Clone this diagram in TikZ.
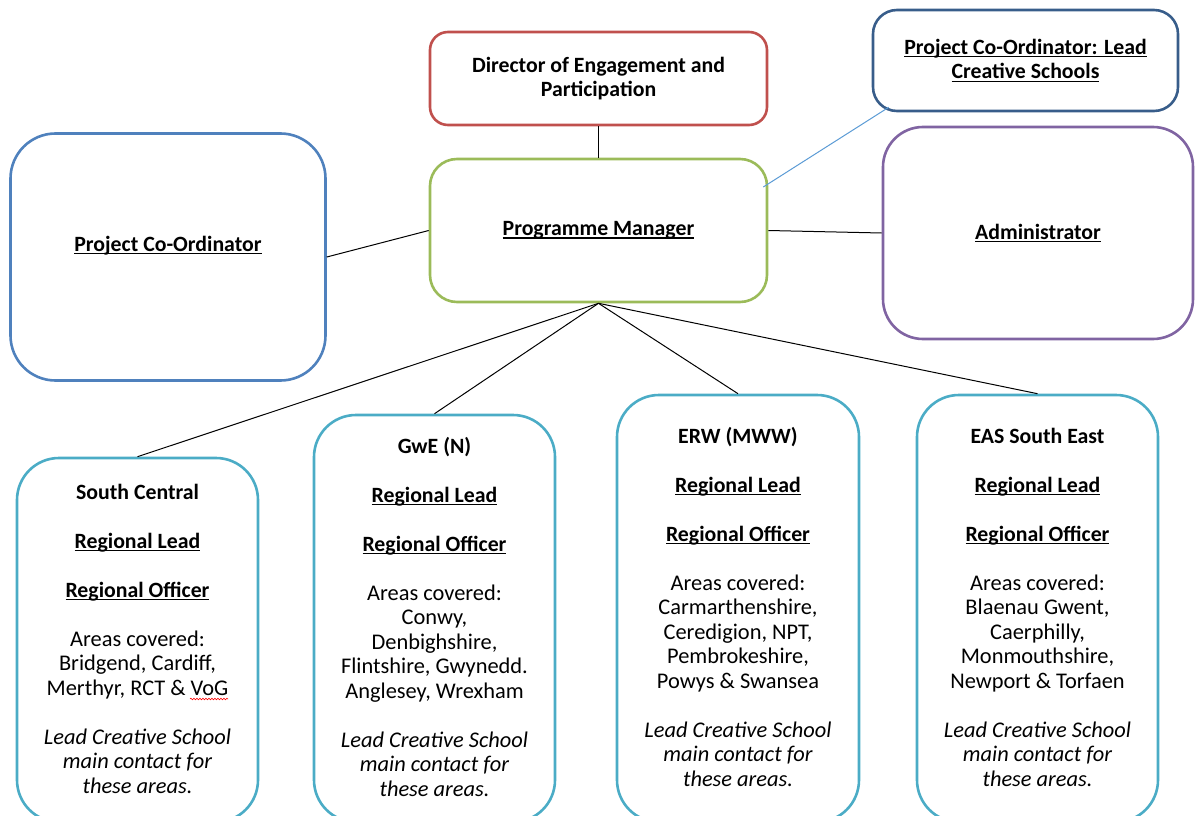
\documentclass[tikz,border=0pt]{standalone}
\usepackage{fontspec}
\setmainfont{Carlito}
\usetikzlibrary{calc,decorations.pathmorphing}
\definecolor{cred}{HTML}{C0504D}
\definecolor{cgreen}{HTML}{9BBB59}
\definecolor{cblue}{HTML}{4F81BD}
\definecolor{cdblue}{HTML}{385D8A}
\definecolor{cpurple}{HTML}{8064A2}
\definecolor{cteal}{HTML}{4BACC6}
\definecolor{clink}{HTML}{5B9BD5}
\newcommand\myul[1]{\setbox0=\hbox{#1}\makebox[0pt][l]{\rule[-2.8pt]{\wd0}{1.1pt}}\box0}
\newcommand\tb[1]{\begin{tabular}[t]{@{}c@{}}#1\end{tabular}}
\newcommand\hdf{\fontsize{21.8}{24.5}\selectfont\bfseries}
\newcommand\bd[1]{{\hdf #1}}
\begin{document}
\begin{tikzpicture}[x=1pt,y=-1pt,
  font=\fontsize{22.4}{24.5}\selectfont,
  bx/.style={draw, line width=2.6pt, rectangle, rounded corners=#1, inner sep=0pt, align=center, font=\hdf},
  txt/.style={inner sep=0pt, anchor=base},
  conn/.style={draw=black, line width=1pt}]
\useasboundingbox (0,0) rectangle (1195,816);
\clip (0,0) rectangle (1195,816);
% top row
\node[bx=18pt, draw=cred, minimum width=337pt, minimum height=93pt] (dir) at (598.5,78.5) {Director of Engagement and\\Participation};
\node[bx=27pt, draw=cgreen, minimum width=337pt, minimum height=143pt] (pm) at (598.5,230.5) {\myul{Programme Manager}};
\node[bx=45pt, draw=cblue, minimum width=315pt, minimum height=247pt] (pc) at (168,257) {};
\node[txt, font=\hdf] (pct) at (168,251) {\myul{Project Co-Ordinator}};
\node[bx=24pt, draw=cdblue, minimum width=305pt, minimum height=101pt] (lcs) at (1025.5,60.5) {\myul{Project Co-Ordinator: Lead}\\\myul{Creative Schools}};
\node[bx=40pt, draw=cpurple, minimum width=310pt, minimum height=212pt] (adm) at (1038,233) {\myul{Administrator}};
% regional boxes
\node[bx=42pt, draw=cteal, minimum width=241pt, minimum height=364pt] (sc) at (137.5,640) {};
\node[bx=42pt, draw=cteal, minimum width=241pt, minimum height=407pt] (gwe) at (434.5,618.5) {};
\node[bx=42pt, draw=cteal, minimum width=242pt, minimum height=427pt] (erw) at (738,608.5) {};
\node[bx=42pt, draw=cteal, minimum width=241pt, minimum height=427pt] (eas) at (1037.5,608.5) {};
\node[txt] (sct) at (137.5,499) {\tb{\bd{South Central}\\[24.5pt]
  \bd{\myul{Regional Lead}}\\[24.5pt]
  \bd{\myul{Regional Officer}}\\[24.5pt]
  Areas covered:\\ Bridgend, Cardiff,\\ Merthyr, RCT \& VoG\\[24.5pt]
  \itshape Lead Creative School\\ \itshape main contact for\\ \itshape these areas.}};
\node[txt] (gwet) at (434.5,453) {\tb{\bd{GwE (N)}\\[24.5pt]
  \bd{\myul{Regional Lead}}\\[24.5pt]
  \bd{\myul{Regional Officer}}\\[24.5pt]
  Areas covered:\\ Conwy,\\ Denbighshire,\\ Flintshire, Gwynedd.\\ Anglesey, Wrexham\\[24.5pt]
  \itshape Lead Creative School\\ \itshape main contact for\\ \itshape these areas.}};
\node[txt] (erwt) at (738,443) {\tb{\bd{ERW (MWW)}\\[24.5pt]
  \bd{\myul{Regional Lead}}\\[24.5pt]
  \bd{\myul{Regional Officer}}\\[24.5pt]
  Areas covered:\\ Carmarthenshire,\\ Ceredigion, NPT,\\ Pembrokeshire,\\ Powys \& Swansea\\[24.5pt]
  \itshape Lead Creative School\\ \itshape main contact for\\ \itshape these areas.}};
\node[txt] (east) at (1037.5,443) {\tb{\bd{EAS South East}\\[24.5pt]
  \bd{\myul{Regional Lead}}\\[24.5pt]
  \bd{\myul{Regional Officer}}\\[24.5pt]
  Areas covered:\\ Blaenau Gwent,\\ Caerphilly,\\ Monmouthshire,\\ Newport \& Torfaen\\[24.5pt]
  \itshape Lead Creative School\\ \itshape main contact for\\ \itshape these areas.}};
% connectors
\draw[conn] (dir.south) -- (pm.north);
\draw[conn] (pc.east) -- (pm.west);
\draw[conn] (pm.east) -- (adm.west);
\draw[conn] (pm.south) -- (sc.north);
\draw[conn] (pm.south) -- (gwe.north);
\draw[conn] (pm.south) -- (erw.north);
\draw[conn] (pm.south) -- (eas.north);
\coordinate (b1) at ($(pm.east)+(-5,-43.5)$);
\coordinate (b2) at ($(lcs.south west)+(17,-5)$);
\draw[draw=clink, line width=1pt] (b1) -- (b2);
% spelling mark
\coordinate (w1) at (190,699);
\coordinate (w2) at (228,699);
\draw[red, line width=0.6pt, decorate, decoration={snake, amplitude=0.8pt, segment length=3pt}] (w1) -- (w2);
\end{tikzpicture}
\end{document}
